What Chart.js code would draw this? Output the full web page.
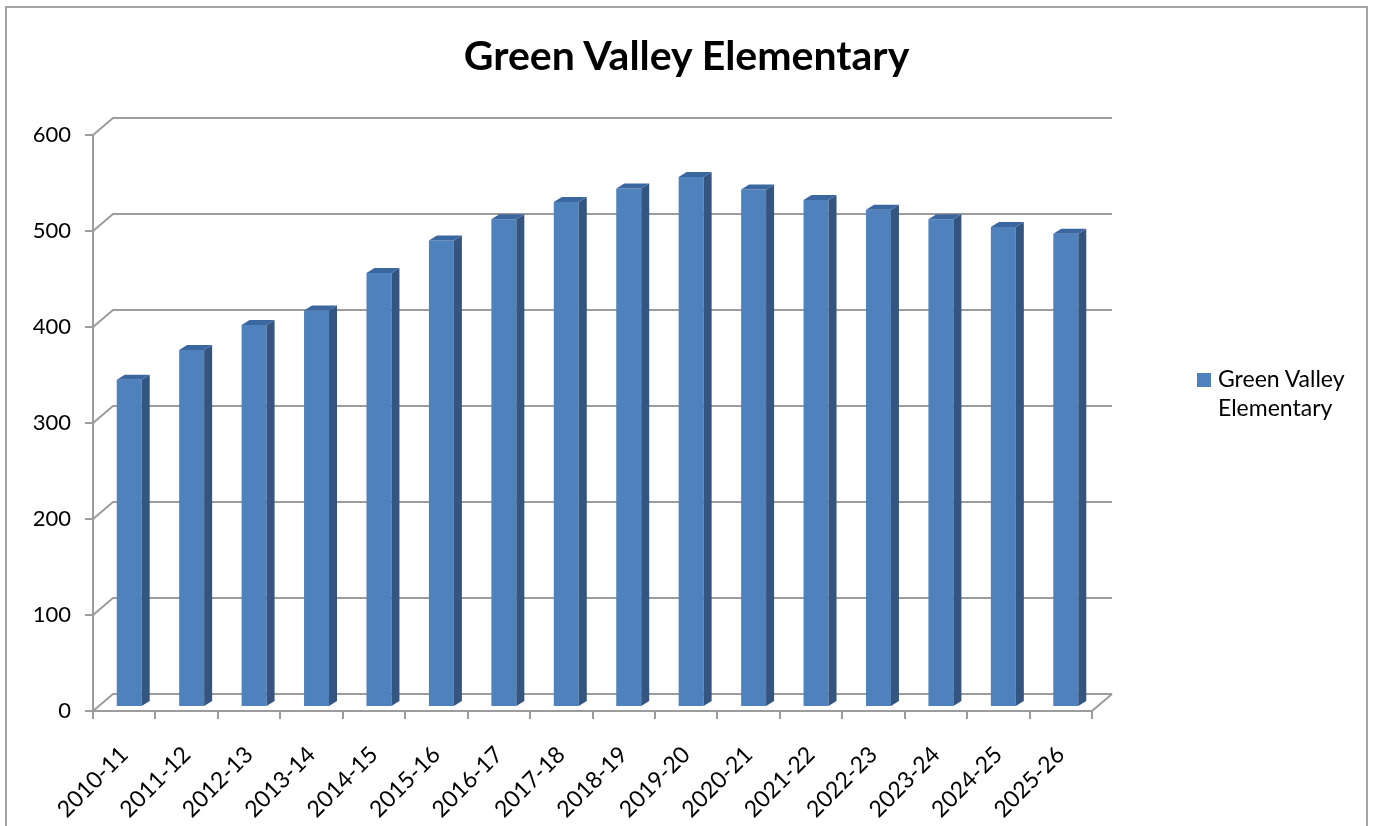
<!DOCTYPE html>
<html>
<head>
<meta charset="utf-8">
<script src="https://cdn.jsdelivr.net/npm/chart.js@4"></script>
<style>
  body { margin: 0; background: #fff; overflow: hidden; }
  #wrap { position: relative; width: 1373px; height: 826px; }
  #frame { position: absolute; left: 5px; top: 6px; width: 1363px; height: 900px; box-sizing: border-box; border: 2px solid #a3a3a3; pointer-events: none; }
  #titulo { position: absolute; left: 0; width: 1373px; top: 29px; text-align: center; font: bold 41px Lato, sans-serif; line-height: 52px; color: #000; }
  #legende { position: absolute; left: 1197px; top: 364px; font: 23px Lato, sans-serif; line-height: 29px; color: #000; }
  #legende .caixa { position: absolute; left: 0; top: 9px; width: 14px; height: 14px; background: #4F81BD; }
  #legende .texto { position: absolute; left: 21px; top: 0; white-space: nowrap; }
</style>
</head>
<body>
<div id="wrap">
  <canvas id="grafico" width="1373" height="826"></canvas>
  <div id="frame"></div>
  <div id="titulo"></div>
  <div id="legende"><div class="caixa"></div><div class="texto">Green Valley<br>Elementary</div></div>
</div>
<script>
const TITULO = 'Green Valley Elementary';
const anos = ['2010-11', '2011-12', '2012-13', '2013-14', '2014-15', '2015-16', '2016-17', '2017-18',
              '2018-19', '2019-20', '2020-21', '2021-22', '2022-23', '2023-24', '2024-25', '2025-26'];
const alunos = [341, 372, 398, 413, 452, 486, 508, 526, 540, 552, 539, 528, 518, 508, 500, 493];
const Y_MIN = 0;
const Y_MAX = 600;
const Y_PASSO = 100;

const COR_FRENTE = '#4F81BD';
const COR_LADO = '#34557F';
const COR_TOPO = '#3B67A0';
const COR_GRADE = '#9c9c9c';

// fake 3d: back wall offset and bar depth
const PAREDE_DX = 20, PAREDE_DY = 17;
const BARRA_DX = 8, BARRA_DY = 5;

document.getElementById('titulo').textContent = TITULO;

const efeito3d = {
    id: 'efeito3d',
    beforeDatasetsDraw(chart) {
        const { ctx, chartArea: a, scales: { y } } = chart;
        ctx.save();
        ctx.strokeStyle = COR_GRADE;
        ctx.lineWidth = 2;
        y.ticks.forEach(t => {
            const py = y.getPixelForValue(t.value);
            ctx.beginPath();
            ctx.moveTo(a.left, py);
            ctx.lineTo(a.left + PAREDE_DX, py - PAREDE_DY);
            ctx.lineTo(a.right + PAREDE_DX, py - PAREDE_DY);
            ctx.stroke();
        });
        ctx.beginPath();
        ctx.moveTo(a.right, a.bottom);
        ctx.lineTo(a.right + PAREDE_DX, a.bottom - PAREDE_DY);
        ctx.stroke();
        ctx.restore();
        // bars sit a bit into the floor
        ctx.save();
        ctx.translate(5, -4);
    },
    afterDatasetsDraw(chart) {
        const ctx = chart.ctx;
        chart.getDatasetMeta(0).data.forEach(b => {
            const { x, y, width, base } = b.getProps(['x', 'y', 'width', 'base'], true);
            const l = x - width / 2, r = x + width / 2;
            ctx.fillStyle = COR_LADO;
            ctx.beginPath();
            ctx.moveTo(r, base);
            ctx.lineTo(r, y);
            ctx.lineTo(r + BARRA_DX, y - BARRA_DY);
            ctx.lineTo(r + BARRA_DX, base - BARRA_DY);
            ctx.closePath();
            ctx.fill();
            ctx.fillStyle = COR_TOPO;
            ctx.beginPath();
            ctx.moveTo(l, y);
            ctx.lineTo(r, y);
            ctx.lineTo(r + BARRA_DX, y - BARRA_DY);
            ctx.lineTo(l + BARRA_DX, y - BARRA_DY);
            ctx.closePath();
            ctx.fill();
        });
        ctx.restore();
    }
};

new Chart(document.getElementById('grafico').getContext('2d'), {
    type: 'bar',
    data: {
        labels: anos,
        datasets: [{
            label: TITULO,
            data: alunos,
            backgroundColor: COR_FRENTE,
            borderWidth: 0,
            categoryPercentage: 1,
            barPercentage: 0.4,
            clip: false
        }]
    },
    options: {
        responsive: false,
        animation: false,
        layout: { padding: { left: 0, right: 281, top: 135, bottom: 0 } },
        plugins: {
            legend: { display: false },
            tooltip: { enabled: false },
            title: { display: false }
        },
        scales: {
            x: {
                afterFit: s => { s.height = 115; },
                border: { display: true, color: COR_GRADE, width: 2 },
                grid: { drawOnChartArea: false, drawTicks: true, tickLength: 8, color: COR_GRADE, lineWidth: 2 },
                ticks: {
                    color: '#000',
                    font: { family: 'Lato', size: 23 },
                    minRotation: 45, maxRotation: 45,
                    autoSkip: false,
                    padding: 22
                }
            },
            y: {
                min: Y_MIN, max: Y_MAX,
                afterFit: s => { s.width = 93; },
                border: { display: true, color: COR_GRADE, width: 2 },
                grid: { drawOnChartArea: false, drawTicks: true, tickLength: 8, color: COR_GRADE, lineWidth: 2 },
                ticks: {
                    stepSize: Y_PASSO,
                    color: '#000',
                    font: { family: 'Lato', size: 22 },
                    padding: 14
                }
            }
        }
    },
    plugins: [efeito3d]
});
</script>
</body>
</html>
